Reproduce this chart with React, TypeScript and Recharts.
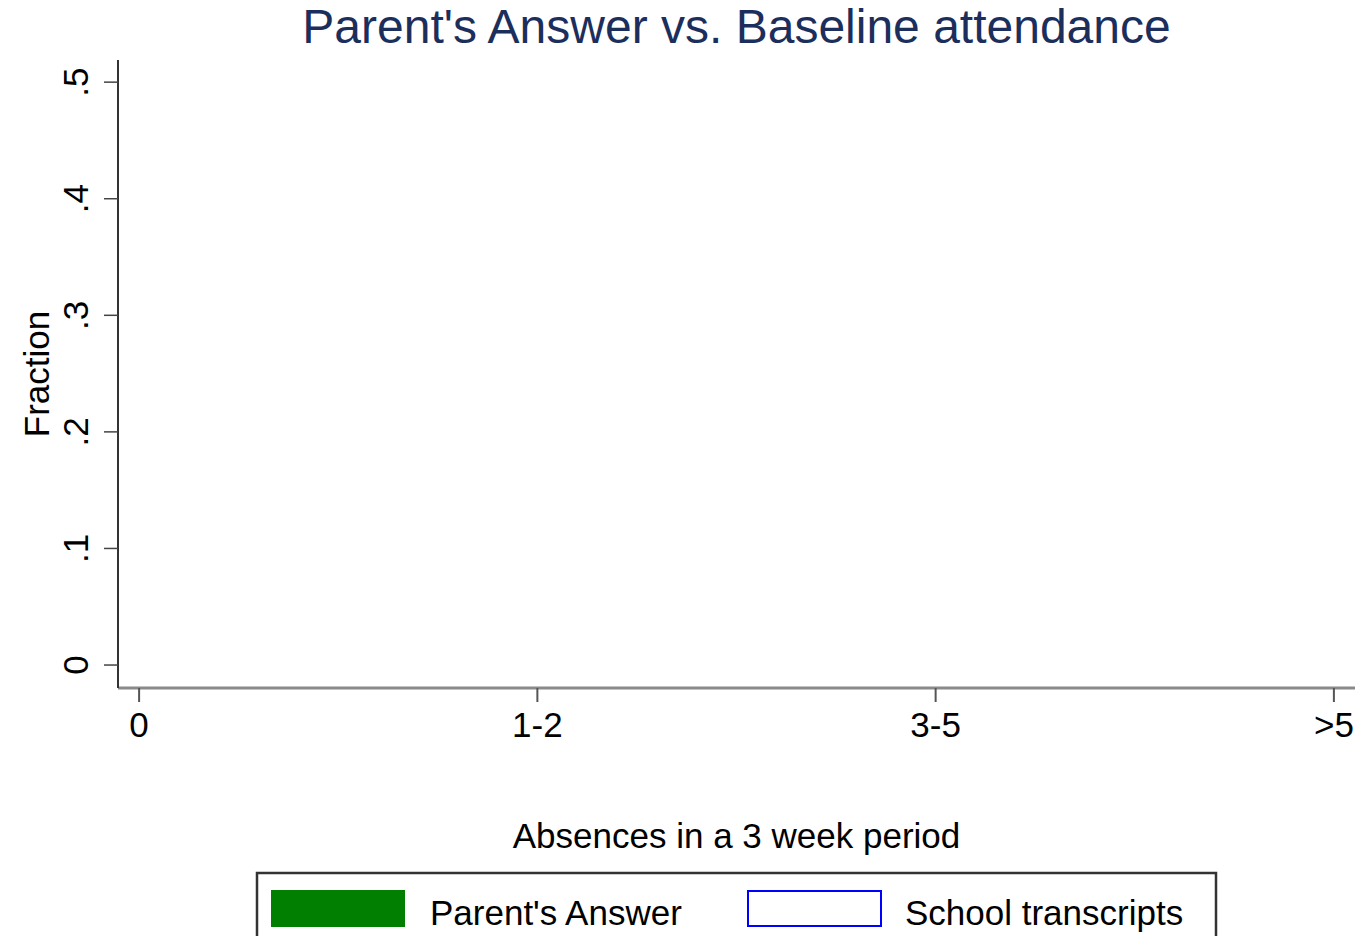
import React from 'react';
import { ComposedChart, Bar, XAxis, YAxis, Label } from 'recharts';

const categories = ['0', '1-2', '3-5', '>5'];
const categoryPositions = [0, 1, 2, 3];
const parentsAnswer: (number | null)[] = [null, null, null, null];
const schoolTranscripts: (number | null)[] = [null, null, null, null];
const yTicks = [0, 0.1, 0.2, 0.3, 0.4, 0.5];
const yTickLabels = ['0', '.1', '.2', '.3', '.4', '.5'];
const seriesNames = ["Parent's Answer", 'School transcripts'];
const titleText = "Parent's Answer vs. Baseline attendance";
const xLabelText = 'Absences in a 3 week period';
const yLabelText = 'Fraction';

const FONT = '"Liberation Sans", Arial, Helvetica, sans-serif';
const W = 1361;
const H = 936;

const data = categories.map((c, i) => ({
  x: categoryPositions[i],
  cat: c,
  parent: parentsAnswer[i],
  school: schoolTranscripts[i],
}));

const XTick = (props: any) => {
  const { x, y, payload } = props;
  const idx = categoryPositions.indexOf(payload.value);
  return (
    <text x={x} y={y + 33} textAnchor="middle" fontFamily={FONT} fontSize={35} fill="#000">
      {categories[idx]}
    </text>
  );
};

const YTick = (props: any) => {
  const { x, y, payload } = props;
  const idx = yTicks.indexOf(payload.value);
  const bx = x - 14;
  return (
    <text
      x={bx}
      y={y}
      textAnchor="middle"
      fontFamily={FONT}
      fontSize={35}
      fill="#000"
      transform={`rotate(-90, ${bx}, ${y})`}
    >
      {yTickLabels[idx]}
    </text>
  );
};

export default function App() {
  return (
    <div style={{ position: 'absolute', left: 0, top: 0, width: W, height: H, overflow: 'hidden', background: '#fff' }}>
      <ComposedChart
        width={W}
        height={H}
        data={data}
        margin={{ top: 60, right: 6, bottom: 188, left: 58 }}
      >
        <XAxis
          dataKey="x"
          type="number"
          domain={[-0.053, 3.053]}
          allowDataOverflow
          ticks={categoryPositions}
          tickSize={14}
          height={60}
          axisLine={{ stroke: '#8a8a8a', strokeWidth: 3 }}
          tickLine={{ stroke: '#555', strokeWidth: 2 }}
          tick={<XTick />}
          interval={0}
        >
          <Label
            content={(p: any) => {
              const vb = p.viewBox || { x: 118, y: 688, width: 1237 };
              return (
                <text
                  x={vb.x + vb.width / 2}
                  y={vb.y + 160}
                  textAnchor="middle"
                  fontFamily={FONT}
                  fontSize={35}
                  fill="#000"
                >
                  {xLabelText}
                </text>
              );
            }}
          />
        </XAxis>
        <YAxis
          type="number"
          domain={[-0.0197, 0.519]}
          allowDataOverflow
          ticks={yTicks}
          tickSize={14}
          width={60}
          axisLine={{ stroke: '#333', strokeWidth: 2 }}
          tickLine={{ stroke: '#444', strokeWidth: 1.5 }}
          tick={<YTick />}
          interval={0}
        >
          <Label
            content={(p: any) => {
              const vb = p.viewBox || { x: 58, y: 60, height: 628 };
              const lx = 49;
              const ly = vb.y + vb.height / 2;
              return (
                <text
                  x={lx}
                  y={ly}
                  textAnchor="middle"
                  fontFamily={FONT}
                  fontSize={35}
                  fill="#000"
                  transform={`rotate(-90, ${lx}, ${ly})`}
                >
                  {yLabelText}
                </text>
              );
            }}
          />
        </YAxis>
        <Bar dataKey="parent" name={seriesNames[0]} fill="#007f00" barSize={150} isAnimationActive={false} />
        <Bar dataKey="school" name={seriesNames[1]} fill="none" stroke="#0000ff" strokeWidth={2} barSize={150} isAnimationActive={false} />
      </ComposedChart>
      <svg width={W} height={H} style={{ position: 'absolute', left: 0, top: 0, pointerEvents: 'none' }}>
        <text x={736.5} y={43} textAnchor="middle" fontFamily={FONT} fontSize={48} fill="#1c2f5c">
          {titleText}
        </text>
        <rect x={257} y={873} width={959} height={90} fill="#fff" stroke="#333" strokeWidth={2.5} />
        <rect x={271} y={890} width={134} height={37} fill="#007f00" />
        <text x={430} y={925} fontFamily={FONT} fontSize={35} fill="#000">
          {seriesNames[0]}
        </text>
        <rect x={748} y={891} width={133} height={35} fill="#fff" stroke="#0000ff" strokeWidth={2} />
        <text x={905} y={925} fontFamily={FONT} fontSize={35} fill="#000">
          {seriesNames[1]}
        </text>
      </svg>
    </div>
  );
}
